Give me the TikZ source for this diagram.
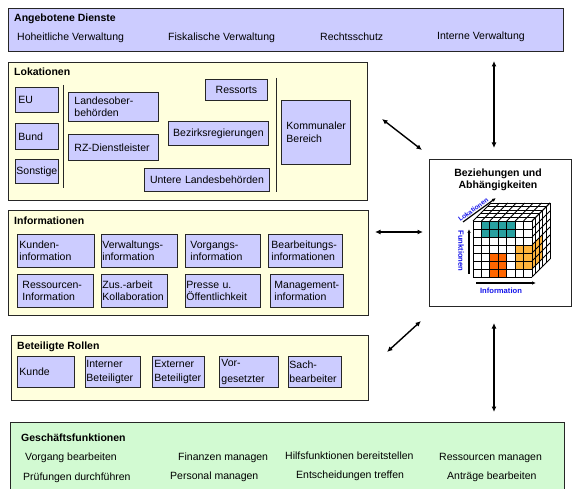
\documentclass[tikz,border=0pt]{standalone}
\usepackage{fontspec}
\setmainfont{Liberation Sans}
\usetikzlibrary{fit,arrows.meta}
\definecolor{lila}{RGB}{204,204,255}
\definecolor{gelb}{RGB}{255,255,221}
\definecolor{gruen}{RGB}{210,250,210}
\definecolor{tuerkis}{RGB}{40,160,160}
\definecolor{dunkelorange}{RGB}{255,102,0}
\definecolor{hellorange}{RGB}{255,180,60}
\definecolor{blau}{RGB}{20,20,235}
\begin{document}
\begin{tikzpicture}[x=1pt,y=-1pt,font=\fontsize{10.5}{12.5}\selectfont,>={Latex[length=5.5pt,width=5pt]}]
  \tikzstyle{bereich}=[draw=black!85,line width=0.9pt,inner sep=0pt]
  \tikzstyle{kasten}=[draw=black!85,line width=0.9pt,fill=lila,anchor=north west,align=left,inner xsep=2pt,inner ysep=0pt]
  \tikzstyle{titel}=[font=\fontsize{10.5}{12.5}\selectfont\bfseries,anchor=base west,inner sep=0pt]
  \tikzstyle{eintrag}=[anchor=base west,inner sep=0pt]
  \tikzstyle{trenner}=[draw=black!85,line width=1pt]
  \tikzstyle{pfeil}=[<->,line width=1.4pt]
  \tikzstyle{achse}=[->,line width=1.2pt,>={Latex[length=4pt,width=3.5pt]}]
  \tikzstyle{achsentext}=[font=\fontsize{7.6}{8}\selectfont\bfseries,text=blau,inner sep=0.5pt]
  \tikzstyle{gitter}=[line width=0.9pt]

  \useasboundingbox (0,0) rectangle (576,489);

  % Bereiche
  \node[bereich,fill=lila,fit={(8,8) (563,51)}] (dienste) {};
  \node[bereich,fill=gelb,fit={(8,62) (367,200)}] (lok) {};
  \node[bereich,fill=gelb,fit={(8,210) (368,315)}] (info) {};
  \node[bereich,fill=gelb,fit={(11,335) (368,400)}] (rollen) {};
  \node[bereich,fill=gruen,fit={(10,422) (564,495)}] (gf) {};
  \node[bereich,fill=white,fit={(429,159) (571,306)}] (bez) {};

  % Angebotene Dienste
  \node[titel] (tdienste) at (14,22) {Angebotene Dienste};
  \node[eintrag] (hoheit) at (17,41) {Hoheitliche Verwaltung};
  \node[eintrag] (fiskal) at (168,41) {Fiskalische Verwaltung};
  \node[eintrag] (recht) at (320,41) {Rechtsschutz};
  \node[eintrag] (intern) at (437,40) {Interne Verwaltung};

  % Lokationen
  \node[titel] (tlok) at (14,76) {Lokationen};
  \node[kasten,text width=37,inner xsep=3,minimum height=25] (eu) at (15,87) {EU};
  \node[kasten,text width=37,inner xsep=3,minimum height=26] (bund) at (15,123) {Bund};
  \node[kasten,text width=41,inner xsep=1,minimum height=24] (sonst) at (15,159) {Sonstige};
  \node[kasten,text width=78,inner xsep=6,minimum height=29] (lob) at (68,92) {Landesober-\\behörden};
  \node[kasten,text width=78,inner xsep=6,minimum height=26] (rz) at (68,134) {RZ-Dienstleister};
  \node[kasten,text width=56,inner xsep=3,minimum height=21,align=center] (ressorts) at (205,79) {Ressorts};
  \node[kasten,text width=96,minimum height=24,align=center] (bezirk) at (168,121) {Bezirksregierungen};
  \node[kasten,text width=121,minimum height=23,align=center] (untere) at (144,168) {Untere Landesbehörden};
  \node[kasten,text width=59,inner xsep=5,minimum height=64] (komm) at (281,100) {Kommunaler\\Bereich};
  \draw[trenner] (63,85) -- (63,188);
  \draw[trenner] (276,78) -- (276,192);

  % Informationen
  \node[titel] (tinfo) at (14,225) {Informationen};
  \node[kasten,text width=73,minimum height=33] (kunden) at (17,234) {Kunden-\\information};
  \node[kasten,text width=74,inner xsep=1,minimum height=33] (verw) at (101,234) {Verwaltungs-\\information};
  \node[kasten,text width=65,inner xsep=5,minimum height=33] (vorg) at (185,234) {Vorgangs-\\information};
  \node[kasten,text width=68,inner xsep=3,minimum height=33] (bearb) at (268,234) {Bearbeitungs-\\informationen};
  \node[kasten,text width=66,inner xsep=5,minimum height=33] (ress) at (17,274) {Ressourcen-\\Information};
  \node[kasten,text width=64,inner xsep=1,minimum height=33] (zus) at (101,274) {Zus.-arbeit\\Kollaboration};
  \node[kasten,text width=73,inner xsep=1,minimum height=33] (presse) at (185,274) {Presse u.\\Öffentlichkeit};
  \node[kasten,text width=65,inner xsep=4,minimum height=33] (mgmt) at (270,274) {Management-\\information};

  % Beteiligte Rollen
  \node[titel] (trollen) at (17,349) {Beteiligte Rollen};
  \node[kasten,text width=53,minimum height=31] (kunde) at (17,356) {Kunde};
  \node[kasten,text width=53,inner xsep=1,minimum height=31] (internb) at (85,356) {Interner\\[2pt]Beteiligter};
  \node[kasten,text width=48,minimum height=31] (externb) at (152,356) {Externer\\[2pt]Beteiligter};
  \node[kasten,text width=55,minimum height=31] (vorges) at (219,356) {Vor-\\[3pt]gesetzter};
  \node[kasten,text width=51,inner xsep=1,minimum height=31] (sach) at (288,356) {Sach-\\[2pt]bearbeiter};

  % Geschaeftsfunktionen
  \node[titel] (tgf) at (21,441) {Geschäftsfunktionen};
  \node[eintrag] (vorgang) at (25,460) {Vorgang bearbeiten};
  \node[eintrag] (finanzen) at (178,460) {Finanzen managen};
  \node[eintrag] (hilfs) at (285,459) {Hilfsfunktionen bereitstellen};
  \node[eintrag] (ressm) at (439,460) {Ressourcen managen};
  \node[eintrag] (pruef) at (23,480) {Prüfungen durchführen};
  \node[eintrag] (personal) at (170,479) {Personal managen};
  \node[eintrag] (entsch) at (296,478) {Entscheidungen treffen};
  \node[eintrag] (antraege) at (447,479) {Anträge bearbeiten};

  % Beziehungen und Abhaengigkeiten
  \node[font=\fontsize{10.5}{12}\selectfont\bfseries,align=center,inner sep=0pt] (tbez) at (498,180) {Beziehungen und\\Abhängigkeiten};

  % Wuerfel
  \fill[white] (473,221) rectangle (532,277);
  \fill[tuerkis] (481.43,221) rectangle (515.14,237);
  \fill[dunkelorange] (489.86,253) rectangle (506.71,277);
  \fill[hellorange] (515.14,245) rectangle (532,269);
  \fill[hellorange] (532,245) -- (542.8,234.2) -- (542.8,258.2) -- (532,269) -- cycle;
  \foreach \i in {0,...,7} \draw[gitter] (473+\i*8.4286,221) -- ++(0,56);
  \foreach \j in {0,...,7} \draw[gitter] (473,221+\j*8) -- ++(59,0);
  \foreach \i in {0,...,7} \draw[gitter] (473+\i*8.4286,221) -- ++(18,-18);
  \foreach \k in {1,...,5} \draw[gitter] (473+\k*3.6,221-\k*3.6) -- ++(59,0);
  \foreach \j in {0,...,7} \draw[gitter] (532,221+\j*8) -- ++(18,-18);
  \foreach \k in {1,...,5} \draw[gitter] (532+\k*3.6,221-\k*3.6) -- ++(0,56);

  % Achsen
  \coordinate (f1) at (469,274); \coordinate (f2) at (469,229);
  \coordinate (i1) at (476,283); \coordinate (i2) at (536,283);
  \coordinate (l1) at (463,222); \coordinate (l2) at (496,198);
  \draw[achse] (f1) -- (f2);
  \draw[achse] (i1) -- (i2);
  \draw[achse] (l1) -- node[achsentext,font=\fontsize{6.6}{7}\selectfont\bfseries,sloped,above=0.4pt,pos=0.38] (tlokachse) {Lokationen} (l2);
  \node[achsentext,rotate=-90] (tfunk) at (461,251) {Funktionen};
  \node[achsentext] (tinfoachse) at (501,290.5) {Information};

  % Pfeile
  \coordinate (p1) at (494,61);  \coordinate (q1) at (494,148);
  \coordinate (p2) at (382,119); \coordinate (q2) at (422,150);
  \coordinate (p3) at (375,232); \coordinate (q3) at (423,232);
  \coordinate (p4) at (387,352); \coordinate (q4) at (421,321);
  \coordinate (p5) at (494,323); \coordinate (q5) at (494,412);
  \draw[pfeil] (p1) -- (q1);
  \draw[pfeil] (p2) -- (q2);
  \draw[pfeil] (p3) -- (q3);
  \draw[pfeil] (p4) -- (q4);
  \draw[pfeil] (p5) -- (q5);
\end{tikzpicture}
\end{document}
